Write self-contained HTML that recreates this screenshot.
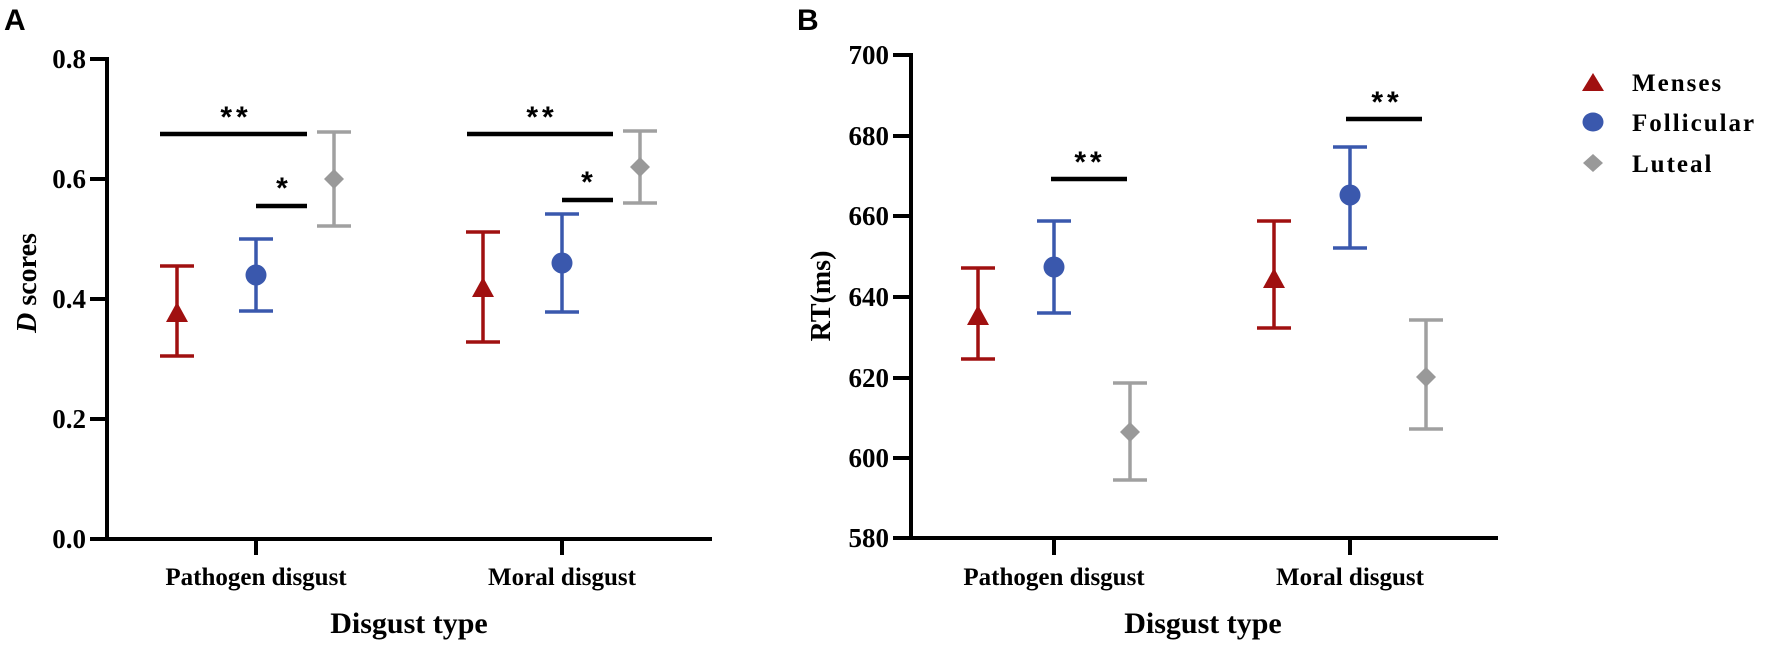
<!DOCTYPE html>
<html><head><meta charset="utf-8"><style>
html,body{margin:0;padding:0;background:#fff;}
svg{display:block;}
.t{font-family:"Liberation Serif",serif;font-weight:bold;fill:#000;}
.s{font-family:"Liberation Sans",sans-serif;font-weight:bold;fill:#000;}
</style></head><body>
<svg width="1772" height="648" viewBox="0 0 1772 648" xmlns="http://www.w3.org/2000/svg">
<!-- Panel A -->
<text x="4" y="30" class="s" font-size="30">A</text>
<g stroke="#000" stroke-width="4" fill="none">
<line x1="107" y1="57" x2="107" y2="541"/>
<line x1="105" y1="539" x2="712" y2="539"/>
<line x1="90" y1="59" x2="107" y2="59"/>
<line x1="90" y1="179" x2="107" y2="179"/>
<line x1="90" y1="299" x2="107" y2="299"/>
<line x1="90" y1="419" x2="107" y2="419"/>
<line x1="90" y1="539" x2="107" y2="539"/>
<line x1="256" y1="539" x2="256" y2="555"/>
<line x1="562" y1="539" x2="562" y2="555"/>
</g>
<g class="t" font-size="27" text-anchor="end">
<text x="86" y="68">0.8</text><text x="86" y="188">0.6</text><text x="86" y="308">0.4</text><text x="86" y="428">0.2</text><text x="86" y="548">0.0</text>
</g>
<text class="t" font-size="28" transform="translate(36,283) rotate(-90)" text-anchor="middle"><tspan font-style="italic">D</tspan> scores</text>
<text class="t" font-size="25" x="256" y="585" text-anchor="middle">Pathogen disgust</text>
<text class="t" font-size="25" x="562" y="585" text-anchor="middle">Moral disgust</text>
<text class="t" font-size="30" x="409" y="633" text-anchor="middle">Disgust type</text>
<g stroke-width="3.5" fill="none">
<g stroke="#a01010"><path d="M177 266V356M160 266H194M160 356H194"/><path d="M483 232V342M466 232H500M466 342H500"/></g>
<g stroke="#3a58ad"><path d="M256 239V311M239 239H273M239 311H273"/><path d="M562 214V312M545 214H579M545 312H579"/></g>
<g stroke="#a0a0a0"><path d="M334 132V226M317 132H351M317 226H351"/><path d="M640 131V203M623 131H657M623 203H657"/></g>
</g>
<polygon points="177,302 188,322 166,322" fill="#a01010"/>
<polygon points="483,277 494,297 472,297" fill="#a01010"/>
<circle cx="256" cy="275" r="10.5" fill="#3a58ad"/>
<circle cx="562" cy="263" r="10.5" fill="#3a58ad"/>
<polygon points="334,169 344,179 334,189 324,179" fill="#999"/>
<polygon points="640,157 650,167 640,177 630,167" fill="#999"/>
<g stroke="#000" stroke-width="4.5">
<line x1="160" y1="134" x2="307" y2="134"/><line x1="256" y1="206" x2="307" y2="206"/>
<line x1="467" y1="134" x2="613" y2="134"/><line x1="562" y1="200" x2="613" y2="200"/>
</g>
<g class="s" font-size="30" text-anchor="middle" letter-spacing="4">
<text x="236" y="127">**</text><text x="284" y="198">*</text>
<text x="542" y="127">**</text><text x="589" y="192">*</text>
</g>
<!-- Panel B -->
<text x="797" y="30" class="s" font-size="30">B</text>
<g stroke="#000" stroke-width="4" fill="none">
<line x1="911" y1="53" x2="911" y2="540"/>
<line x1="909" y1="538" x2="1498" y2="538"/>
<line x1="893" y1="55" x2="911" y2="55"/>
<line x1="893" y1="136" x2="911" y2="136"/>
<line x1="893" y1="216" x2="911" y2="216"/>
<line x1="893" y1="297" x2="911" y2="297"/>
<line x1="893" y1="378" x2="911" y2="378"/>
<line x1="893" y1="458" x2="911" y2="458"/>
<line x1="893" y1="538" x2="911" y2="538"/>
<line x1="1054" y1="538" x2="1054" y2="555"/>
<line x1="1350" y1="538" x2="1350" y2="555"/>
</g>
<g class="t" font-size="27" text-anchor="end">
<text x="889" y="64">700</text><text x="889" y="145">680</text><text x="889" y="225">660</text><text x="889" y="306">640</text><text x="889" y="387">620</text><text x="889" y="467">600</text><text x="889" y="547">580</text>
</g>
<text class="t" font-size="28" transform="translate(830,296) rotate(-90)" text-anchor="middle">RT(ms)</text>
<text class="t" font-size="25" x="1054" y="585" text-anchor="middle">Pathogen disgust</text>
<text class="t" font-size="25" x="1350" y="585" text-anchor="middle">Moral disgust</text>
<text class="t" font-size="30" x="1203" y="633" text-anchor="middle">Disgust type</text>
<g stroke-width="3.5" fill="none">
<g stroke="#a01010"><path d="M978 268V359M961 268H995M961 359H995"/><path d="M1274 221V328M1257 221H1291M1257 328H1291"/></g>
<g stroke="#3a58ad"><path d="M1054 221V313M1037 221H1071M1037 313H1071"/><path d="M1350 147V248M1333 147H1367M1333 248H1367"/></g>
<g stroke="#a0a0a0"><path d="M1130 383V480M1113 383H1147M1113 480H1147"/><path d="M1426 320V429M1409 320H1443M1409 429H1443"/></g>
</g>
<polygon points="978,305 989,325 967,325" fill="#a01010"/>
<polygon points="1274,268 1285,288 1263,288" fill="#a01010"/>
<circle cx="1054" cy="267" r="10.5" fill="#3a58ad"/>
<circle cx="1350" cy="195" r="10.5" fill="#3a58ad"/>
<polygon points="1130,422 1140,432 1130,442 1120,432" fill="#999"/>
<polygon points="1426,367 1436,377 1426,387 1416,377" fill="#999"/>
<g stroke="#000" stroke-width="4.5">
<line x1="1051" y1="179" x2="1127" y2="179"/>
<line x1="1346" y1="119" x2="1422" y2="119"/>
</g>
<g class="s" font-size="30" text-anchor="middle" letter-spacing="4">
<text x="1090" y="172">**</text><text x="1387" y="112">**</text>
</g>
<!-- legend -->
<polygon points="1593,73 1604,91 1582,91" fill="#a01010"/>
<ellipse cx="1593" cy="122" rx="10.5" ry="9.5" fill="#3a58ad"/>
<polygon points="1593,154 1603,163 1593,172 1583,163" fill="#999"/>
<g class="t" font-size="25" letter-spacing="2">
<text x="1632" y="91">Menses</text>
<text x="1632" y="131">Follicular</text>
<text x="1632" y="172">Luteal</text>
</g>
</svg>
</body></html>
